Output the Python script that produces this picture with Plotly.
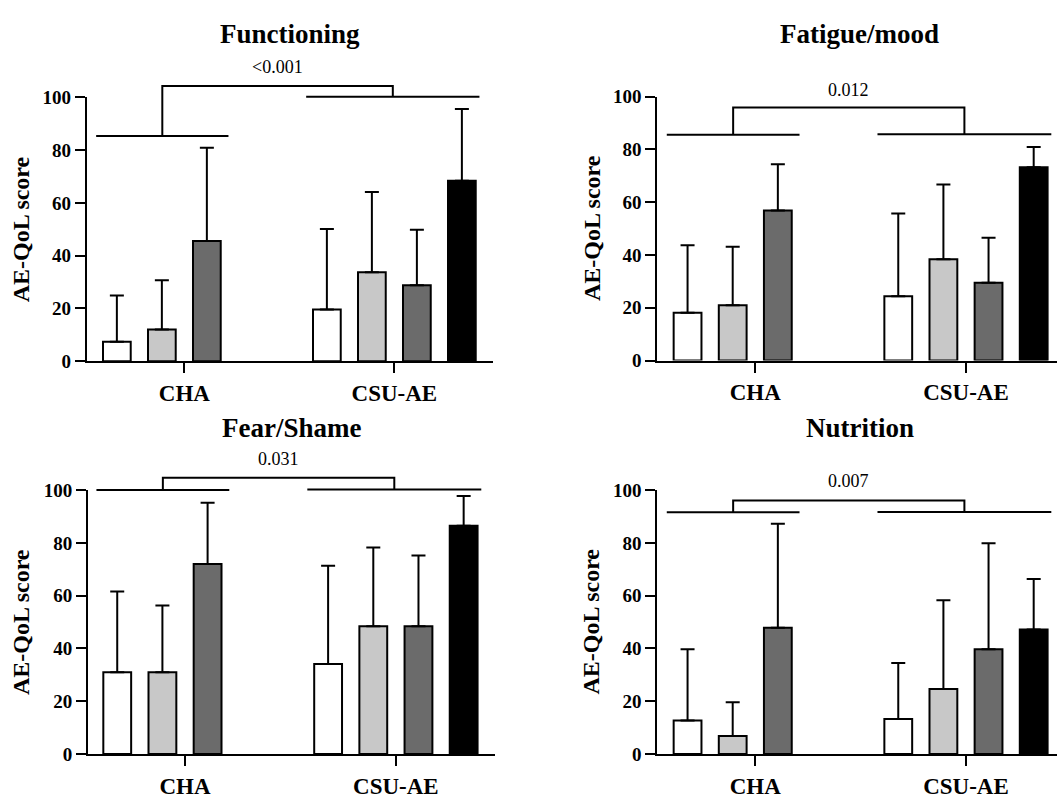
import plotly.graph_objects as go

# ---------------- data ----------------
CATEGORIES = ["CHA", "CSU-AE"]
CAT_POS = [0, 1]
PANEL_TITLES = ["Functioning", "Fatigue/mood", "Fear/Shame", "Nutrition"]
P_VALUES = ["<0.001", "0.012", "0.031", "0.007"]
Y_TICKS = [0, 20, 40, 60, 80, 100]
Y_TITLE = "AE-QoL score"

# each row = one bar series, values = [CHA, CSU-AE]  (CHA has no 4th series)
FUNCTIONING_MEAN = [[7.4, 19.6], [12.0, 33.7], [45.6, 28.8], [None, 68.4]]
FUNCTIONING_SD = [[17.5, 30.5], [18.7, 30.4], [35.3, 21.0], [None, 27.2]]

FATIGUE_MEAN = [[18.1, 24.4], [21.0, 38.4], [56.9, 29.5], [None, 73.3]]
FATIGUE_SD = [[25.6, 31.3], [22.1, 28.3], [17.5, 17.0], [None, 7.6]]

FEAR_MEAN = [[31.0, 34.1], [31.0, 48.4], [72.0, 48.4], [None, 86.5]]
FEAR_SD = [[30.6, 37.2], [25.3, 29.8], [23.2, 26.8], [None, 11.3]]

NUTRITION_MEAN = [[12.7, 13.3], [6.8, 24.6], [47.8, 39.7], [None, 47.2]]
NUTRITION_SD = [[27.0, 21.2], [12.8, 33.7], [39.4, 40.2], [None, 19.1]]

PANEL_MEANS = [FUNCTIONING_MEAN, FATIGUE_MEAN, FEAR_MEAN, NUTRITION_MEAN]
PANEL_SDS = [FUNCTIONING_SD, FATIGUE_SD, FEAR_SD, NUTRITION_SD]

# ---------------- layout / style ----------------
W, H = 1057, 802
FONT = "Liberation Serif"
BAR_COLORS = ["#ffffff", "#c8c8c8", "#6b6b6b", "#000000"]

# plot-area pixel boxes: (left, right, y0px (value 0), y100px)
BOXES = [
    (86.7, 493.3, 360.7, 89.7),
    (657.3, 1057.0, 360.0, 89.0),
    (88.0, 495.0, 764.0, 493.0),
    (657.3, 1057.0, 764.0, 493.0),
]
X_RANGES = [[-0.465, 1.471], [-0.465, 1.432], [-0.460, 1.470], [-0.465, 1.432]]
# bracket heights: (CHA line, CSU line, top, label)
BRACKETS = [
    (85.4, 100.2, 104.3, 111.4),
    (85.6, 85.8, 95.9, 102.7),
    (100.0, 100.2, 104.7, 111.7),
    (91.6, 91.7, 96.1, 103.4),
]
CHA_SPAN = (-0.42, 0.21)
CSU_SPAN = (1 - 0.42, 1 + 0.405)
TITLE_POS = [(290, 25), (859, 25), (291, 429), (860, 429)]
YTITLE_X = [21, 591.5, 21, 591.5]
OVER = 1.2

fig = go.Figure()
annotations = []
layout_axes = {}

for p in range(4):
    n = p + 1
    xs = "" if n == 1 else str(n)
    ys = "" if n == 1 else str(n)
    yo = str(n + 4)
    left, right, y0, y100 = BOXES[p]
    d0 = 1 - y0 / H
    d1 = 1 - y100 / H

    for s in range(4):
        fig.add_trace(go.Bar(
            x=CAT_POS, y=PANEL_MEANS[p][s],
            xaxis="x" + xs, yaxis="y" + ys,
            marker=dict(color=BAR_COLORS[s], line=dict(color="black", width=2)),
            error_y=dict(type="data", symmetric=False,
                         array=[v if v is not None else 0 for v in PANEL_SDS[p][s]],
                         arrayminus=[0, 0], color="black", thickness=2, width=7),
            showlegend=False, hoverinfo="skip",
        ))

    h_cha, h_csu, h_top, h_lab = BRACKETS[p]
    mid_cha = sum(CHA_SPAN) / 2
    mid_csu = sum(CSU_SPAN) / 2
    bx = [CHA_SPAN[0], CHA_SPAN[1], None, CSU_SPAN[0], CSU_SPAN[1], None,
          mid_cha, mid_cha, mid_csu, mid_csu]
    by = [h_cha, h_cha, None, h_csu, h_csu, None, h_cha, h_top, h_top, h_csu]
    fig.add_trace(go.Scatter(
        x=bx, y=by, mode="lines", line=dict(color="black", width=2),
        xaxis="x" + xs, yaxis="y" + yo, showlegend=False, hoverinfo="skip",
        connectgaps=False,
    ))

    layout_axes["xaxis" + xs] = dict(
        domain=[left / W, right / W], range=X_RANGES[p], anchor="y" + ys,
        tickvals=CAT_POS, ticktext=CATEGORIES, ticks="outside", ticklen=10,
        tickwidth=2, tickcolor="black", showline=True, linewidth=2, linecolor="black",
        showgrid=False, zeroline=False, fixedrange=True,
        tickfont=dict(family=FONT, size=23, color="black", weight="bold"),
    )
    layout_axes["yaxis" + ys] = dict(
        domain=[d0, d1], range=[0, 100], anchor="x" + xs,
        tickvals=Y_TICKS, ticks="outside", ticklen=10, tickwidth=2, tickcolor="black",
        showline=True, linewidth=2, linecolor="black", showgrid=False, zeroline=False,
        fixedrange=True,
        tickfont=dict(family=FONT, size=19, color="black", weight="bold"),
    )
    layout_axes["yaxis" + yo] = dict(
        domain=[d0, d0 + (d1 - d0) * OVER], range=[0, 100 * OVER], anchor="x" + xs,
        visible=False, fixedrange=True,
    )

    tx, ty = TITLE_POS[p]
    annotations.append(dict(
        text=PANEL_TITLES[p], xref="paper", yref="paper", x=tx / W, y=1 - ty / H,
        xanchor="center", yanchor="middle", showarrow=False,
        font=dict(family=FONT, size=27, color="black", weight="bold"),
    ))
    annotations.append(dict(
        text=Y_TITLE, xref="paper", yref="paper", x=YTITLE_X[p] / W,
        y=(d0 + d1) / 2, xanchor="center", yanchor="middle", textangle=-90,
        showarrow=False, font=dict(family=FONT, size=24, color="black", weight="bold"),
    ))
    annotations.append(dict(
        text=P_VALUES[p], xref="x" + xs, yref="y" + yo, x=(mid_cha + mid_csu) / 2,
        y=h_lab, xanchor="center", yanchor="middle", showarrow=False,
        font=dict(family=FONT, size=18, color="black"),
    ))

fig.update_layout(
    width=W, height=H, margin=dict(l=0, r=0, t=0, b=0),
    paper_bgcolor="white", plot_bgcolor="rgba(0,0,0,0)",
    barmode="group", bargap=0.143, bargroupgap=0.384,
    annotations=annotations, showlegend=False,
    **layout_axes,
)

fig.write_html(
    "out.html",
    config={"displayModeBar": False},
    post_script="document.body.style.margin='0';document.body.style.overflow='hidden';",
)
